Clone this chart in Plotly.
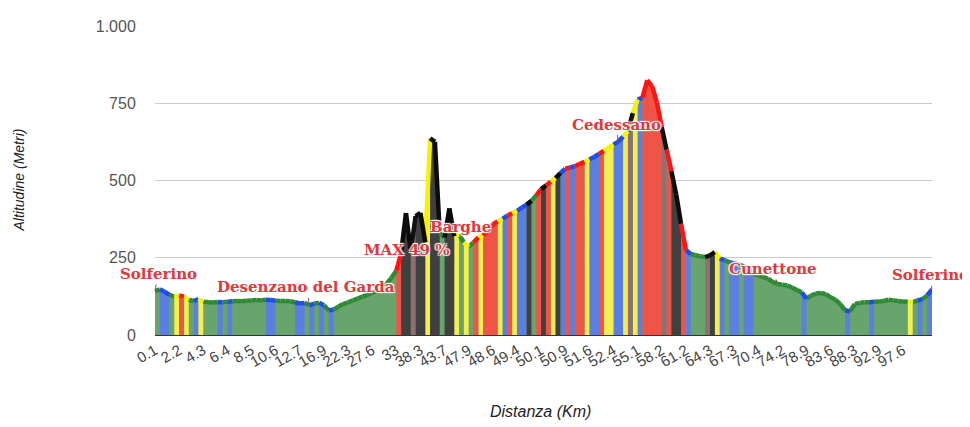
import plotly.graph_objects as go

# ---------------- data ----------------
dist_labels = ["0.1", "2.2", "4.3", "6.4", "8.5", "10.6", "12.7", "16.9", "22.3", "27.6",
               "33", "38.3", "43.7", "47.9", "48.6", "49.4", "50.1", "50.9", "51.6", "52.4",
               "55.1", "58.2", "61.2", "64.3", "67.3", "70.4", "74.2", "78.9", "83.6", "88.3",
               "92.9", "97.6"]
label_step = 5  # one labelled category every 5 samples

elevation = [
    142, 148, 140, 130, 124, 128, 124, 114, 110, 116,
    108, 106, 105, 107, 106, 108, 109, 110, 109, 111,
    112, 113, 112, 114, 113, 111, 110, 110, 109, 106,
    102, 104, 96, 102, 104, 96, 80, 82, 92, 100,
    106, 112, 118, 124, 130, 136, 142, 150, 166, 185,
    208, 265, 395, 270, 385, 395, 300, 637, 625, 330,
    315, 410, 320, 325, 300, 285, 300, 316, 322, 340,
    358, 368, 376, 386, 394, 402, 412, 422, 434, 452,
    472, 484, 496, 508, 524, 538, 542, 546, 554, 560,
    568, 576, 586, 596, 606, 616, 626, 642, 660, 718,
    762, 768, 825, 805, 752, 672, 600, 530, 455, 360,
    275, 262, 258, 255, 252, 258, 268, 248, 242, 236,
    232, 228, 222, 212, 198, 192, 188, 182, 172, 165,
    163, 160, 154, 146, 138, 118, 128, 134, 136, 132,
    122, 114, 100, 80, 76, 100, 104, 106, 106, 108,
    108, 110, 114, 112, 110, 108, 108, 106, 112, 116,
    128, 148,
]

# gradient class of each segment: G flat, B light, Y medium, R hard, D very hard, K extreme
grade = [
    "G", "B", "B", "G", "Y", "R", "Y", "G", "B", "Y",
    "G", "G", "G", "B", "G", "B", "G", "G", "G", "G",
    "G", "G", "G", "B", "B", "G", "G", "G", "G", "B",
    "B", "G", "B", "G", "B", "G", "B", "G", "G", "G",
    "G", "G", "G", "G", "G", "G", "G", "G", "G", "G",
    "R", "K", "K", "D", "K", "K", "Y", "K", "K", "G",
    "K", "K", "Y", "G", "Y", "G", "R", "Y", "R", "R",
    "R", "Y", "B", "R", "Y", "B", "B", "K", "G", "R",
    "K", "R", "Y", "K", "B", "R", "B", "R", "R", "Y",
    "B", "B", "R", "Y", "Y", "B", "B", "Y", "D", "Y",
    "B", "R", "R", "R", "R", "D", "R", "K", "K", "R",
    "B", "G", "G", "G", "D", "K", "Y", "B", "G", "B",
    "B", "G", "B", "B", "G", "G", "G", "G", "G", "G",
    "G", "G", "G", "G", "B", "G", "G", "G", "G", "G",
    "G", "G", "G", "B", "G", "G", "G", "G", "B", "G",
    "G", "G", "G", "G", "G", "G", "Y", "G", "B", "G",
    "B", "G",
]

place_names = ["Solferino", "Desenzano del Garda", "MAX 49 %", "Barghe",
               "Cedessano", "Cunettone", "Solferino"]
place_index = [0, 32, 52, 63, 96, 129, 161]

assert len(elevation) == len(grade)

# ---------------- styles ----------------
fill_colors = {"G": "#67a56c", "B": "#5a7fe0", "Y": "#f4ee50", "R": "#ef5546",
               "D": "#8e7072", "K": "#404040"}
line_colors = {"G": "#2f8a36", "B": "#1f4ee6", "Y": "#f6f300", "R": "#ff1414",
               "D": "#111111", "K": "#0c0c0c"}

idx = list(range(len(elevation)))
fig = go.Figure()

# base green area
fig.add_trace(go.Scatter(x=idx, y=elevation, mode="lines", fill="tozeroy",
                         fillcolor=fill_colors["G"], line=dict(width=0),
                         hoverinfo="skip", showlegend=False))

# coloured stripes (one polygon per segment)
for cls in ["B", "Y", "R", "D", "K"]:
    xs, ys = [], []
    for i in range(len(elevation) - 1):
        if grade[i] != cls:
            continue
        xs += [i, i, i + 1, i + 1, i, None]
        ys += [0, elevation[i], elevation[i + 1], 0, 0, None]
    if xs:
        fig.add_trace(go.Scatter(x=xs, y=ys, mode="lines", fill="toself",
                                 fillcolor=fill_colors[cls], line=dict(width=0),
                                 hoverinfo="skip", showlegend=False))

# profile line, coloured per segment
for cls in ["G", "B", "Y", "R", "D", "K"]:
    xs, ys = [], []
    for i in range(len(elevation) - 1):
        if grade[i] != cls:
            continue
        xs += [i, i + 1, None]
        ys += [elevation[i], elevation[i + 1], None]
    if xs:
        fig.add_trace(go.Scatter(x=xs, y=ys, mode="lines",
                                 line=dict(color=line_colors[cls], width=4.5),
                                 hoverinfo="skip", showlegend=False))

# place annotations
label_font = dict(family="DejaVu Serif", size=15, color="#e2383a", weight="bold",
                  shadow="1px 1px 1px #fff, -1px -1px 1px #fff, 1px -1px 1px #fff, -1px 1px 1px #fff")
offsets = {0: (3, -17), 1: (-3, -18), 4: (-2, -17), 5: (-5, -15), 6: (-2, -14)}
shifts = {2: (1, -37), 3: (1, 8)}
annotations = []
for k, (name, pi) in enumerate(zip(place_names, place_index)):
    if k in offsets:
        ax, ay = offsets[k]
        annotations.append(dict(x=pi, y=elevation[pi], xref="x", yref="y", text=name,
                                showarrow=True, arrowhead=0, arrowwidth=1,
                                arrowcolor="#9a4a40", ax=ax, ay=ay, font=label_font))
    else:
        xs_, ys_ = shifts[k]
        annotations.append(dict(x=pi, y=elevation[pi], xref="x", yref="y", text=name,
                                showarrow=False, xshift=xs_, yshift=ys_,
                                font=label_font))

annotations.append(dict(text="Altitudine (Metri)", xref="paper", yref="paper",
                        x=(18 - 155) / 777, y=0.5, textangle=-90, showarrow=False,
                        xanchor="center", yanchor="middle",
                        font=dict(family="Liberation Sans, Arial", size=14, color="#222",
                                  style="italic")))
annotations.append(dict(text="Distanza (Km)", xref="paper", yref="paper",
                        x=(540 - 155) / 777, y=(335 - 413) / 317, showarrow=False,
                        xanchor="center", yanchor="middle",
                        font=dict(family="Liberation Sans, Arial", size=16, color="#222",
                                  style="italic")))

tick_pos = [i * label_step for i in range(len(dist_labels))]

# the page body has an 8px margin, so the figure is 8px smaller than the window
fig.update_layout(
    width=962, height=419,
    margin=dict(l=147, r=38, t=10, b=92),
    paper_bgcolor="white", plot_bgcolor="white",
    showlegend=False,
    annotations=annotations,
    font=dict(family="Liberation Sans, Arial", color="#444"),
    xaxis=dict(range=[0, len(elevation) - 1], tickvals=tick_pos, ticktext=dist_labels,
               tickangle=-30, tickfont=dict(size=15, color="#444"),
               showgrid=False, zeroline=False, showline=True, linecolor="#333",
               linewidth=1, ticks=""),
    yaxis=dict(range=[0, 1000], tickvals=[0, 250, 500, 750, 1000],
               ticktext=["0", "250", "500", "750", "1.000"],
               tickfont=dict(size=16, color="#555"), gridcolor="#cccccc",
               zeroline=False, showline=False, ticks="outside", ticklen=15,
               tickcolor="rgba(0,0,0,0)"),
)

fig.write_html("out.html")
